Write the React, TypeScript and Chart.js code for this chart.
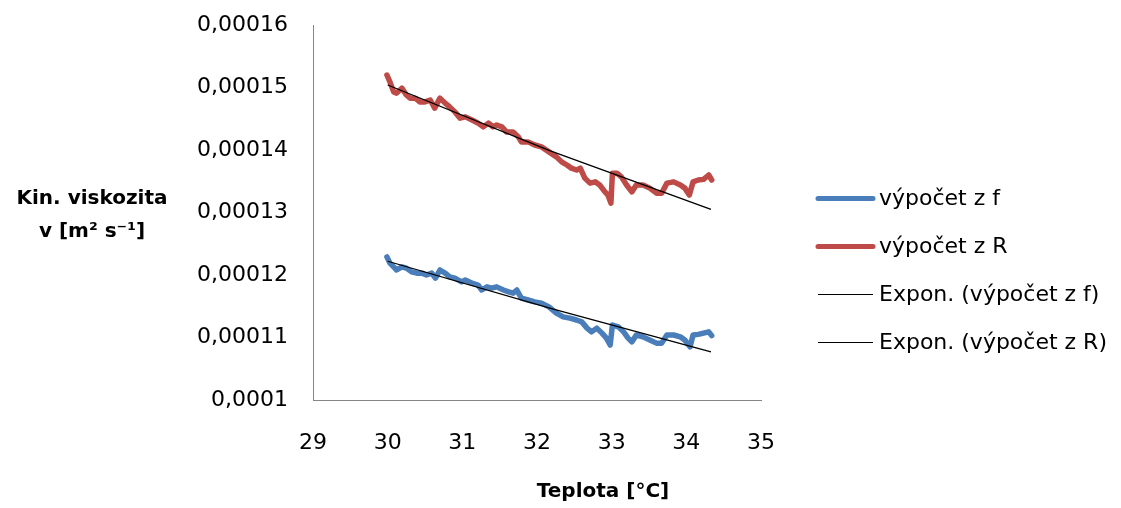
import React, { useEffect, useRef } from "react";
import { Chart, registerables } from "chart.js";

Chart.register(...registerables);

// Temperature [°C] for "výpočet z f"
const temperaturesF = [
  29.99, 30.03, 30.08, 30.12, 30.19, 30.25, 30.32, 30.39, 30.46, 30.52,
  30.59, 30.64, 30.7, 30.77, 30.83, 30.9, 30.99, 31.04, 31.13, 31.21,
  31.26, 31.33, 31.39, 31.46, 31.55, 31.62, 31.68, 31.73, 31.79, 31.88,
  31.97, 32.06, 32.16, 32.26, 32.35, 32.44, 32.53, 32.6, 32.67, 32.73,
  32.8, 32.87, 32.93, 32.98, 33.01, 33.09, 33.16, 33.22, 33.27, 33.33,
  33.42, 33.51, 33.6, 33.67, 33.74, 33.83, 33.92, 33.98, 34.05, 34.09,
  34.16, 34.23, 34.3, 34.34,
];

// výpočet z f
const viscosityF = [
  1.229e-4, 1.219e-4, 1.213e-4, 1.208e-4, 1.213e-4, 1.211e-4, 1.205e-4, 1.203e-4, 1.203e-4, 1.2e-4,
  1.203e-4, 1.195e-4, 1.208e-4, 1.203e-4, 1.197e-4, 1.195e-4, 1.189e-4, 1.192e-4, 1.187e-4, 1.184e-4,
  1.176e-4, 1.181e-4, 1.179e-4, 1.181e-4, 1.176e-4, 1.173e-4, 1.171e-4, 1.176e-4, 1.163e-4, 1.16e-4,
  1.157e-4, 1.155e-4, 1.149e-4, 1.139e-4, 1.133e-4, 1.131e-4, 1.128e-4, 1.125e-4, 1.115e-4, 1.109e-4,
  1.115e-4, 1.107e-4, 1.099e-4, 1.088e-4, 1.12e-4, 1.117e-4, 1.109e-4, 1.099e-4, 1.093e-4, 1.104e-4,
  1.101e-4, 1.096e-4, 1.091e-4, 1.091e-4, 1.104e-4, 1.104e-4, 1.101e-4, 1.096e-4, 1.085e-4, 1.104e-4,
  1.105e-4, 1.107e-4, 1.109e-4, 1.103e-4,
];

// Temperature [°C] for "výpočet z R"
const temperaturesR = [
  29.99, 30.03, 30.08, 30.12, 30.19, 30.25, 30.3, 30.37, 30.43, 30.5,
  30.57, 30.63, 30.7, 30.77, 30.83, 30.9, 30.97, 31.04, 31.13, 31.21,
  31.28, 31.35, 31.41, 31.46, 31.53, 31.59, 31.68, 31.75, 31.79, 31.88,
  31.97, 32.06, 32.16, 32.26, 32.33, 32.4, 32.46, 32.53, 32.58, 32.64,
  32.71, 32.78, 32.84, 32.91, 32.95, 32.99, 33.01, 33.07, 33.13, 33.2,
  33.27, 33.33, 33.42, 33.51, 33.6, 33.67, 33.74, 33.83, 33.92, 33.98,
  34.04, 34.09, 34.16, 34.23, 34.3, 34.34,
];

// výpočet z R
const viscosityR = [
  1.52e-4, 1.509e-4, 1.493e-4, 1.491e-4, 1.499e-4, 1.488e-4, 1.483e-4, 1.483e-4, 1.477e-4, 1.477e-4,
  1.48e-4, 1.467e-4, 1.483e-4, 1.475e-4, 1.469e-4, 1.461e-4, 1.451e-4, 1.453e-4, 1.448e-4, 1.443e-4,
  1.437e-4, 1.443e-4, 1.437e-4, 1.44e-4, 1.437e-4, 1.429e-4, 1.429e-4, 1.421e-4, 1.413e-4, 1.413e-4,
  1.408e-4, 1.405e-4, 1.397e-4, 1.389e-4, 1.381e-4, 1.376e-4, 1.371e-4, 1.368e-4, 1.371e-4, 1.355e-4,
  1.347e-4, 1.349e-4, 1.344e-4, 1.333e-4, 1.328e-4, 1.315e-4, 1.363e-4, 1.363e-4, 1.357e-4, 1.344e-4,
  1.333e-4, 1.344e-4, 1.344e-4, 1.339e-4, 1.331e-4, 1.331e-4, 1.347e-4, 1.349e-4, 1.344e-4, 1.339e-4,
  1.328e-4, 1.349e-4, 1.352e-4, 1.353e-4, 1.36e-4, 1.352e-4,
];

// Exponential trend lines
const trendTemps = [30.0, 32.17, 34.33];
const trendF = [1.222e-4, 1.147e-4, 1.077e-4];
const trendR = [1.504e-4, 1.399e-4, 1.305e-4];

const xTicks = [29, 30, 31, 32, 33, 34, 35];
const yTicks = [0.0001, 0.00011, 0.00012, 0.00013, 0.00014, 0.00015, 0.00016];

const seriesLabels = [
  "výpočet z f",
  "výpočet z R",
  "Expon. (výpočet z f)",
  "Expon. (výpočet z R)",
];
const yTitleLines = ["Kin. viskozita", "v [m² s⁻¹]"];
const xTitle = "Teplota [°C]";

const FONT = '"DejaVu Sans", sans-serif';

const toPoints = (xs: number[], ys: number[]) => xs.map((x, i) => ({ x, y: ys[i] }));

const overlayPlugin = {
  id: "overlay",
  afterDraw(chart: any) {
    const ctx = chart.ctx as CanvasRenderingContext2D;
    const area = chart.chartArea;
    ctx.save();
    ctx.fillStyle = "#000";
    ctx.textBaseline = "middle";
    // Y axis title (horizontal)
    ctx.font = `bold 20px ${FONT}`;
    ctx.textAlign = "center";
    ctx.fillText(yTitleLines[0], 92, 199);
    ctx.fillText(yTitleLines[1], 92, 232);
    // X axis title
    ctx.fillText(xTitle, (area.left + area.right) / 2 + 66, 492);
    // Legend
    const lx = area.right + 57;
    chart.data.datasets.forEach((ds: any, i: number) => {
      const y = 198.5 + i * 48;
      ctx.strokeStyle = ds.borderColor;
      ctx.lineWidth = ds.borderWidth > 2 ? 5 : 1;
      ctx.lineCap = ds.borderWidth > 2 ? "round" : "butt";
      ctx.beginPath();
      ctx.moveTo(lx, y);
      ctx.lineTo(lx + 55, y);
      ctx.stroke();
      ctx.font = `22px ${FONT}`;
      ctx.textAlign = "left";
      ctx.fillStyle = "#000";
      ctx.fillText(ds.label, lx + 61, y + 1);
    });
    ctx.restore();
  },
};

export default function App() {
  const canvasRef = useRef<HTMLCanvasElement | null>(null);

  useEffect(() => {
    if (!canvasRef.current) return;
    const dataLine = {
      borderWidth: 5.5,
      pointRadius: 0,
      tension: 0,
      borderJoinStyle: "round" as const,
      borderCapStyle: "round" as const,
      order: 2,
    };
    const trendLine = {
      borderColor: "#000000",
      backgroundColor: "#000000",
      borderWidth: 1.3,
      pointRadius: 0,
      tension: 0,
      order: 1,
    };
    const chart = new Chart(canvasRef.current, {
      type: "line",
      data: {
        datasets: [
          {
            ...dataLine,
            label: seriesLabels[0],
            data: toPoints(temperaturesF, viscosityF),
            borderColor: "#4A7EBB",
            backgroundColor: "#4A7EBB",
          },
          {
            ...dataLine,
            label: seriesLabels[1],
            data: toPoints(temperaturesR, viscosityR),
            borderColor: "#BE4B48",
            backgroundColor: "#BE4B48",
          },
          {
            ...trendLine,
            label: seriesLabels[2],
            data: toPoints(trendTemps, trendF),
          },
          {
            ...trendLine,
            label: seriesLabels[3],
            data: toPoints(trendTemps, trendR),
          },
        ],
      },
      options: {
        responsive: false,
        animation: false,
        devicePixelRatio: 1,
        layout: { padding: { left: 0, right: 360, top: 25, bottom: 0 } },
        plugins: {
          legend: { display: false },
          tooltip: { enabled: false },
          title: { display: false },
        },
        scales: {
          x: {
            type: "linear",
            min: 29,
            max: 35,
            grid: { display: false, drawTicks: false },
            border: { display: true, color: "#868686", width: 1 },
            ticks: {
              color: "#000",
              font: { family: FONT, size: 22 },
              padding: 30,
              maxRotation: 0,
              autoSkip: false,
              callback: (v: any) => String(v),
            },
            afterBuildTicks: (scale: any) => {
              scale.ticks = xTicks.map((v) => ({ value: v }));
            },
            afterFit: (scale: any) => {
              scale.height = 108;
            },
          },
          y: {
            type: "linear",
            min: 0.0001,
            max: 0.00016,
            grid: { display: false, drawTicks: false },
            border: { display: true, color: "#868686", width: 1 },
            ticks: {
              color: "#000",
              font: { family: FONT, size: 22 },
              padding: 25,
              autoSkip: false,
              callback: (v: any) =>
                parseFloat(Number(v).toFixed(6)).toString().replace(".", ","),
            },
            afterBuildTicks: (scale: any) => {
              scale.ticks = yTicks.map((v) => ({ value: v }));
            },
            afterFit: (scale: any) => {
              scale.width = 313;
              scale.paddingTop = 0;
              scale.paddingBottom = 0;
            },
          },
        },
      },
      plugins: [overlayPlugin],
    });
    return () => chart.destroy();
  }, []);

  return (
    <div
      style={{
        position: "fixed",
        left: 0,
        top: 0,
        width: 1121,
        height: 508,
        background: "#fff",
      }}
    >
      <canvas ref={canvasRef} width={1121} height={508} style={{ display: "block" }} />
    </div>
  );
}
